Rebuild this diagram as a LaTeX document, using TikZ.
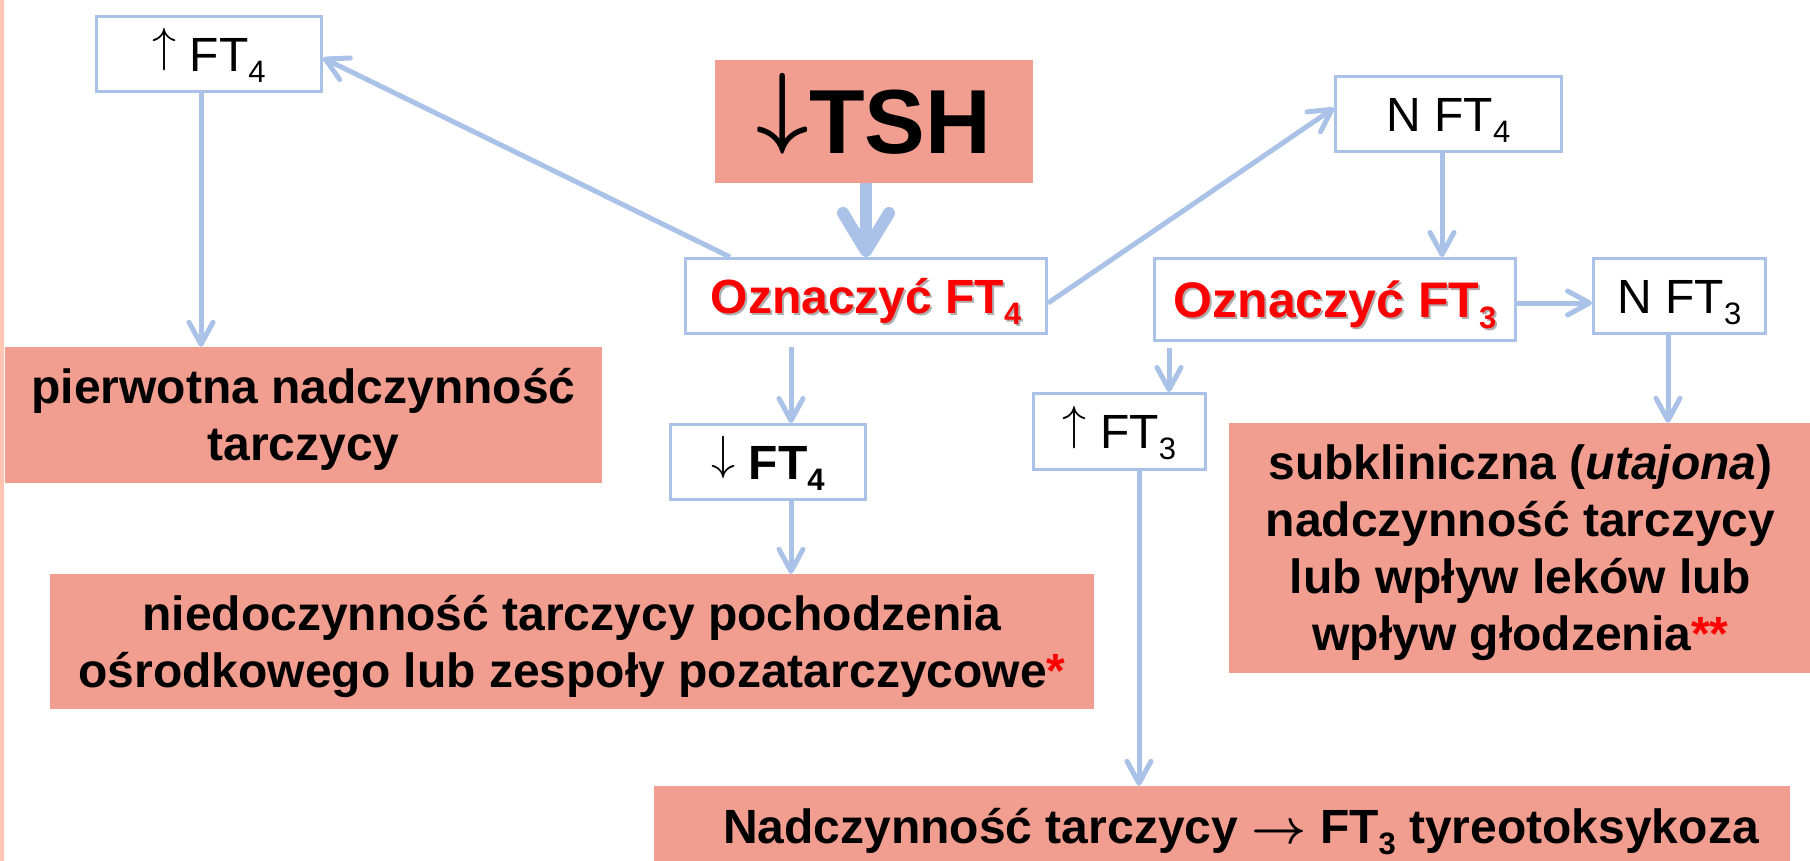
\documentclass[tikz,border=0pt]{standalone}
\usepackage{fontspec}
\setmainfont{Liberation Sans}
\usetikzlibrary{arrows.meta}
\definecolor{lineblue}{RGB}{171,194,232}
\definecolor{salmon}{RGB}{241,157,143}
\definecolor{peach}{RGB}{255,196,178}
\definecolor{shadowgray}{RGB}{175,175,175}
\newcommand\sbs[1]{\raisebox{-11pt}{\fontsize{31}{31}\selectfont #1}}
\newcommand\shd[1]{\rlap{\hspace{2pt}\raisebox{-2pt}{\color{shadowgray}#1}}#1}
\newcommand\uarr{\raisebox{9.3pt}{\scalebox{4.8}{\fontsize{10}{12}\selectfont$\uparrow$}}}
\newcommand\darr{\raisebox{9.3pt}{\scalebox{4.8}{\fontsize{10}{12}\selectfont$\downarrow$}}}
\newcommand\bigdarr{\raisebox{17.7pt}{\scalebox{9.1}{\fontsize{10}{12}\selectfont\boldmath$\downarrow$}}}
\newcommand\rarr{\scalebox{4.8}{\fontsize{10}{12}\selectfont\boldmath$\rightarrow$}}
\begin{document}
\begin{tikzpicture}[x=1pt,y=-1pt,
  wbox/.style={draw=lineblue, line width=3pt, fill=white, inner sep=0pt,
    font=\fontsize{48}{57}\selectfont, text height=34.4pt, text depth=0pt},
  sbox/.style={fill=salmon, inner sep=0pt, font=\fontsize{48}{57}\selectfont\bfseries,
    align=center, text depth=0pt},
  conn/.style={draw=lineblue, line width=5pt, -{Straight Barb[length=22pt,width=24pt,round]}},
  bigconn/.style={draw=lineblue, line width=12pt, -{Straight Barb[length=38pt,width=46pt,round]}},
]
\useasboundingbox (0,0) rectangle (1810,861);
\fill[white] (0,0) rectangle (1810,861);
\fill[peach] (0,0) rectangle (3.5,861);

% nodes
\node[wbox, minimum width=225pt, minimum height=75pt] (ft4up) at (209,54) {\uarr\ FT\sbs{4}};
\node[sbox, minimum width=597pt, minimum height=136pt, text height=91.4pt] (pierw) at (303.5,415)
  {pierwotna nadczynność\\tarczycy};
\node[fill=salmon, inner sep=0pt, minimum width=318pt, minimum height=123pt,
  font=\fontsize{91}{100}\selectfont\bfseries, text height=65pt, text depth=0pt] (tsh) at (874,121.5)
  {\bigdarr TSH};
\node[wbox, minimum width=361pt, minimum height=75pt, font=\fontsize{48}{57}\selectfont\bfseries,
  text=red] (ozn4) at (866,296) {\shd{Oznaczyć FT\sbs{4}}};
\node[wbox, minimum width=195pt, minimum height=75pt] (ft4down) at (768,462) {\darr\ \textbf{FT\sbs{4}}};
\node[sbox, minimum width=1044pt, minimum height=135pt, text height=91.4pt] (niedo) at (572,641.5)
  {niedoczynność tarczycy pochodzenia\\ośrodkowego lub zespoły pozatarczycowe\textcolor{red}{*}};
\node[wbox, minimum width=226pt, minimum height=75pt] (nft4) at (1448.5,114) {N FT\sbs{4}};
\node[wbox, minimum width=361pt, minimum height=82pt, font=\fontsize{50}{57}\selectfont\bfseries,
  text=red, text height=35.8pt] (ozn3) at (1335,299.5) {\shd{Oznaczyć FT\sbs{3}}};
\node[wbox, minimum width=172pt, minimum height=75pt] (nft3) at (1679.5,296) {N FT\sbs{3}};
\node[wbox, minimum width=172pt, minimum height=76pt] (ft3up) at (1119.5,431.5) {\uarr\ FT\sbs{3}};
\node[sbox, minimum width=583pt, minimum height=250pt, text height=205.4pt] (subkl) at (1520.5,548)
  {subkliniczna (\textit{utajona})\\nadczynność tarczycy\\lub wpływ leków lub\\wpływ głodzenia\textcolor{red}{**}};
\node[fill=salmon, inner sep=0pt, minimum width=1136pt, minimum height=90pt] (nadcz) at (1222,831) {};
\node[inner sep=0pt, font=\fontsize{48}{57}\selectfont\bfseries, text height=34.4pt, text depth=0pt]
  (nadczt) at (1241,826) {Nadczynność tarczycy \rarr\ FT\sbs{3} tyreotoksykoza};

% connectors
\draw[bigconn] (ozn4.north |- tsh.south) -- (ozn4.north);
\draw[conn] ([xshift=-136pt]ozn4.north) -- ([yshift=-4pt]ft4up.east);
\draw[conn] ([yshift=-7pt]ozn4.east) -- ([yshift=6pt]nft4.west);
\draw[conn] ([xshift=-8pt]ft4up.south) -- ([xshift=-8pt]ft4up.south |- pierw.north);
\draw[conn] ([xshift=23pt,yshift=-12pt]ft4down.north |- ozn4.south) -- ([xshift=23pt]ft4down.north);
\draw[conn] ([xshift=23pt]ft4down.south) -- ([xshift=23pt]ft4down.south |- niedo.north);
\draw[conn] ([xshift=-6.5pt]nft4.south) -- ([xshift=-6.5pt]nft4.south |- ozn3.north);
\draw[conn] ([yshift=-3.5pt]ozn3.east) -- ([yshift=-3.5pt]ozn3.east -| nft3.west);
\draw[conn] ([xshift=49.5pt,yshift=-6pt]ft3up.north |- ozn3.south) -- ([xshift=49.5pt]ft3up.north);
\draw[conn] ([xshift=-11.5pt]nft3.south) -- ([xshift=-11.5pt]nft3.south |- subkl.north);
\draw[conn] ([xshift=19.5pt]ft3up.south) -- ([xshift=19.5pt]ft3up.south |- nadcz.north);
\end{tikzpicture}
\end{document}
